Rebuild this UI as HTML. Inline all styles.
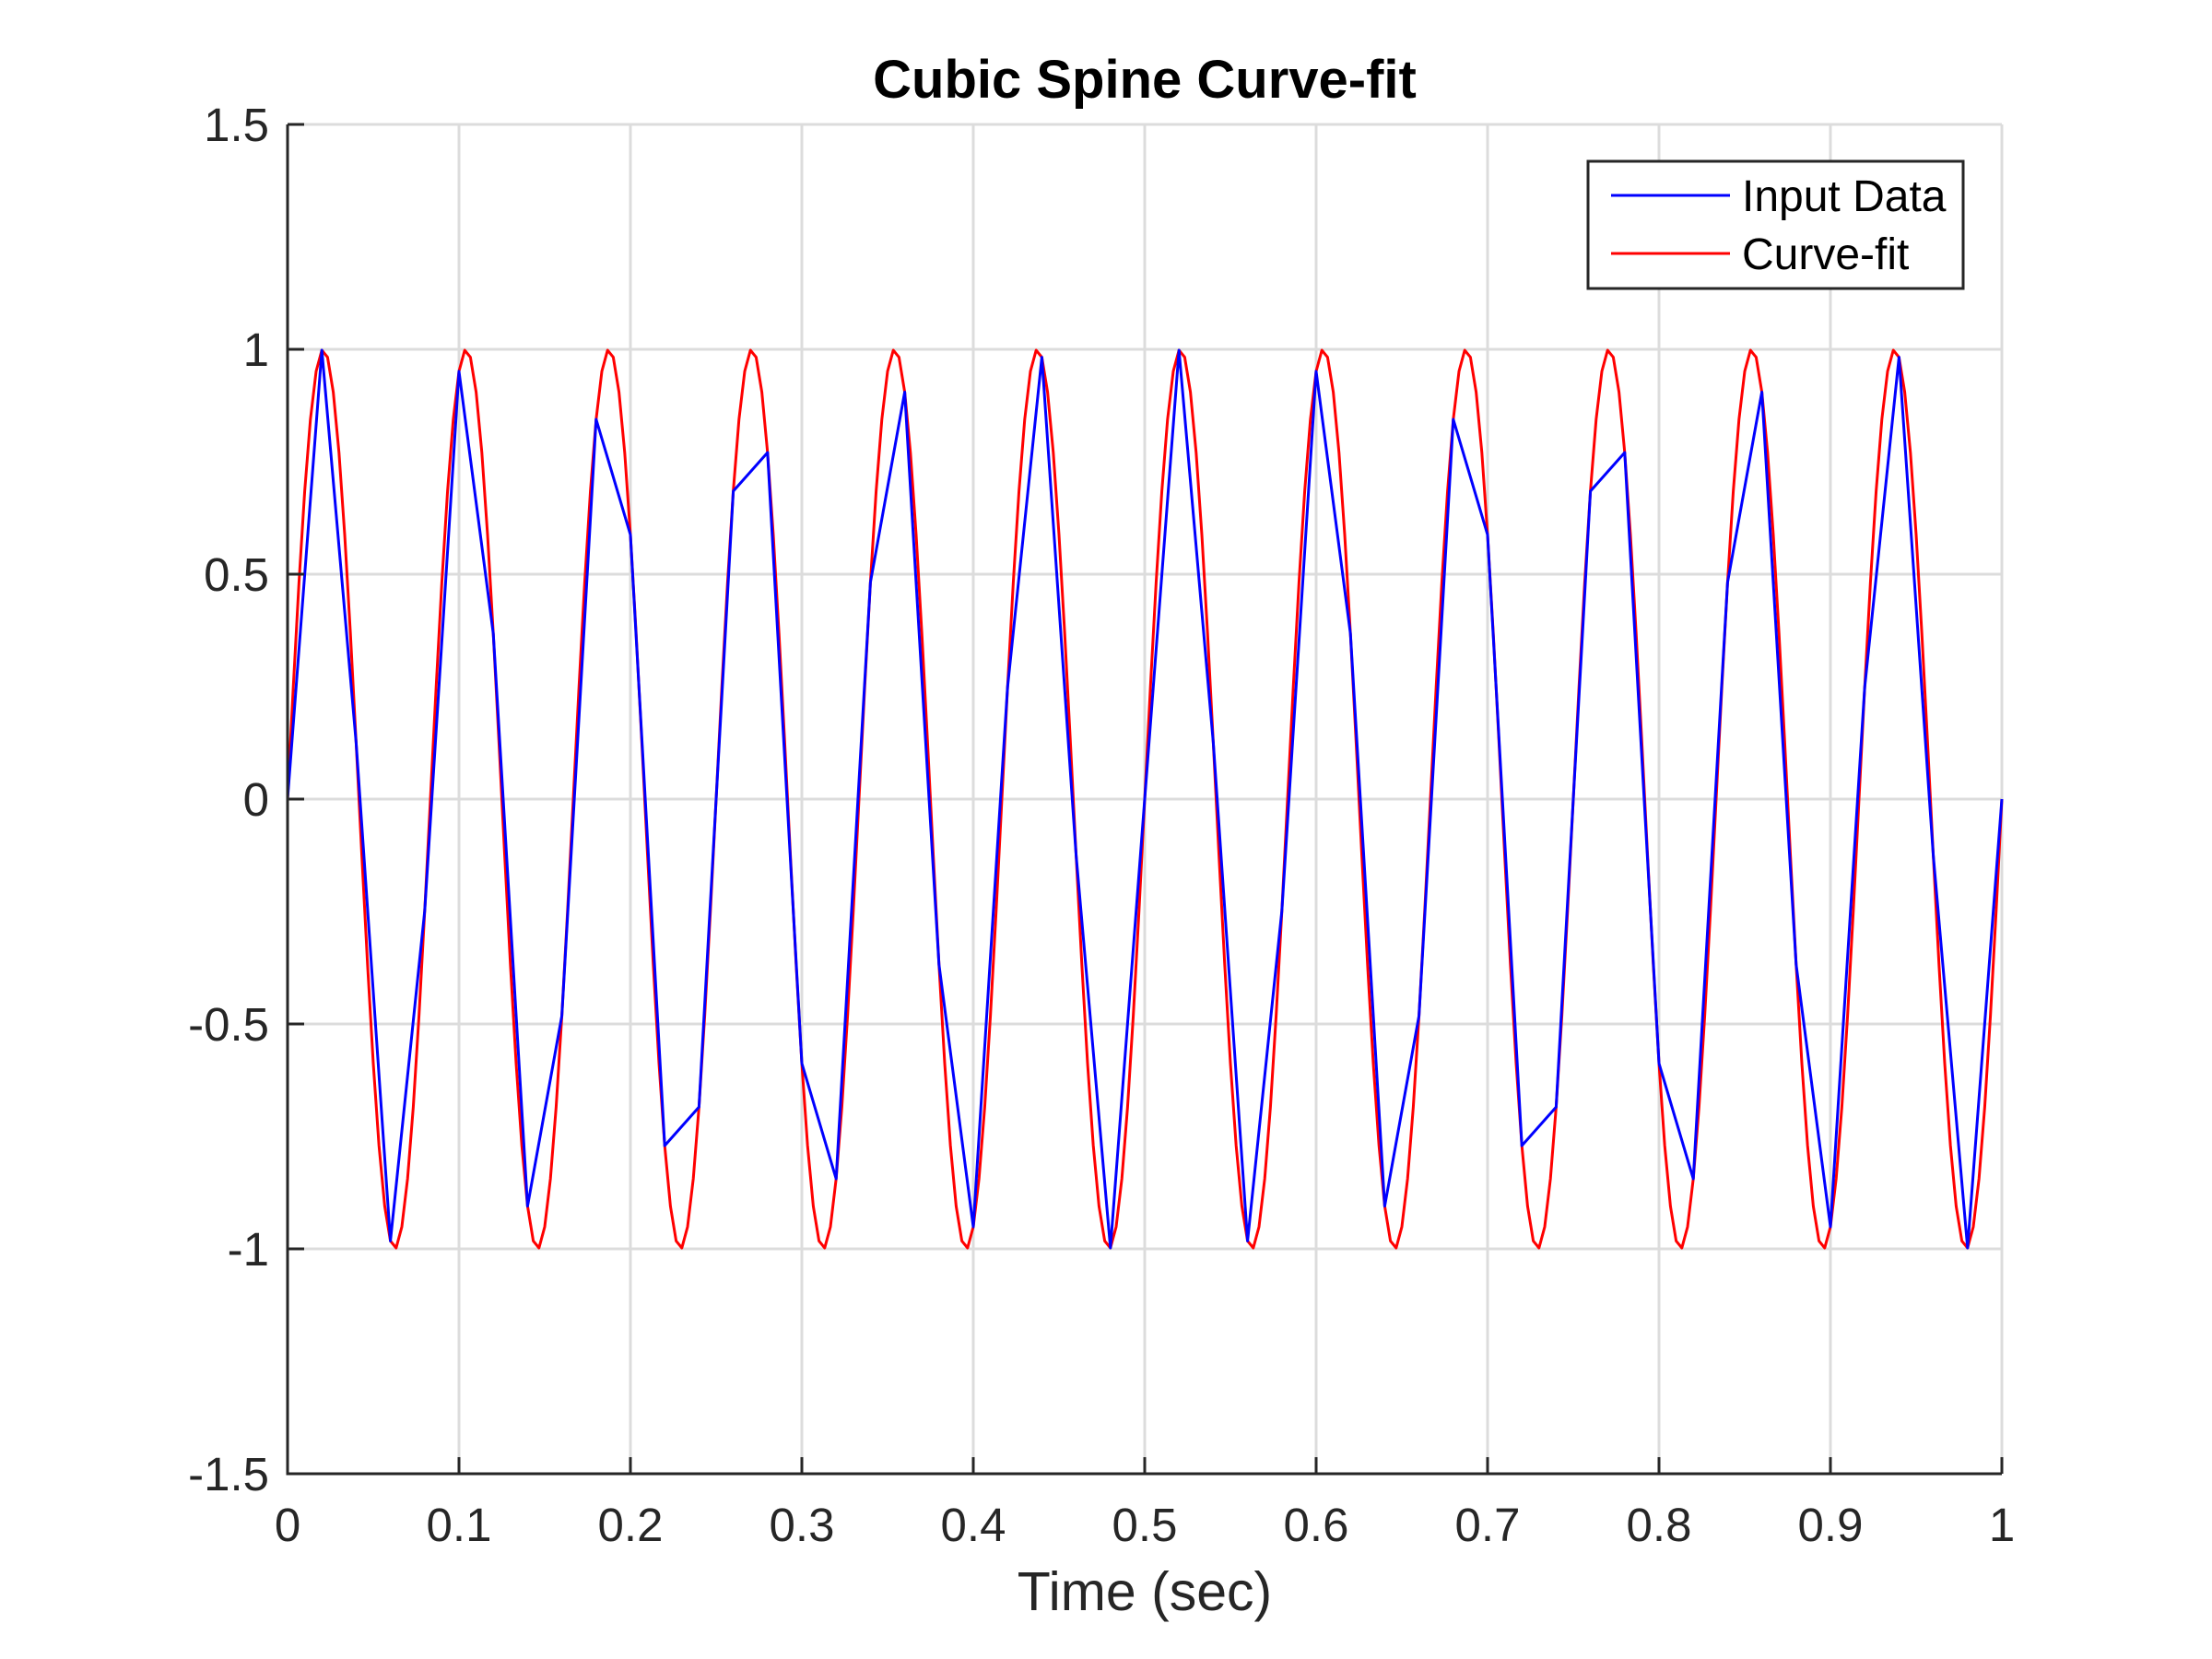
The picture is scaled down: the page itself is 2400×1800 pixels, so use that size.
<!DOCTYPE html>
<html><head><style>body{margin:0;background:#fff}svg{display:block}</style></head>
<body>
<svg id="s" width="2400" height="1800" xmlns="http://www.w3.org/2000/svg" font-family="Liberation Sans, Arial, sans-serif">
<rect width="2400" height="1800" fill="#fff"/>
<g id="grid" stroke="#dcdcdc" stroke-width="3"></g>
<g id="lines" fill="none" stroke-width="3" stroke-linejoin="round"></g>
<g id="axes" stroke="#262626" stroke-width="3" fill="none"></g>
<g id="labels" fill="#262626" font-size="51"></g>
<text x="1242" y="106" text-anchor="middle" font-size="58" font-weight="bold" fill="#000">Cubic Spine Curve-fit</text>
<text x="1242" y="1747" text-anchor="middle" font-size="59" fill="#262626">Time (sec)</text>
<rect x="1723" y="175" width="407" height="138" fill="#fff" stroke="#262626" stroke-width="3"/>
<line x1="1748" y1="212" x2="1877" y2="212" stroke="#0000ff" stroke-width="3"/>
<line x1="1748" y1="275" x2="1877" y2="275" stroke="#ff0000" stroke-width="3"/>
<text x="1890" y="229" font-size="48" fill="#000">Input Data</text>
<text x="1890" y="292" font-size="48" fill="#000">Curve-fit</text>
</svg>
<script>
var L=312,R=2172,T=135,B=1599,NS="http://www.w3.org/2000/svg";
function X(t){return L+(R-L)*t}function Y(v){return T+(B-T)*(1.5-v)/3}
function el(p,n,a,txt){var e=document.createElementNS(NS,n);for(var k in a)e.setAttribute(k,a[k]);if(txt!=null)e.textContent=txt;document.getElementById(p).appendChild(e);}
for(var i=0;i<=10;i++){var x=X(i/10);el('grid','line',{x1:x,y1:T,x2:x,y2:B});
el('axes','line',{x1:x,y1:B,x2:x,y2:B-18});
el('labels','text',{x:x,y:1672,'text-anchor':'middle'},i==0?'0':i==10?'1':(i/10).toFixed(1));}
for(var j=0;j<=6;j++){var v=-1.5+j*0.5,y=Y(v);el('grid','line',{x1:L,y1:y,x2:R,y2:y});
el('axes','line',{x1:L,y1:y,x2:L+18,y2:y});
el('labels','text',{x:292,y:y+18,'text-anchor':'end'},v==0?'0':String(v));}
el('axes','path',{d:'M'+L+' '+T+'V'+B+'H'+R});
var f=function(t){return Math.sin(2*Math.PI*12*t)};
var d='';for(var k=0;k<=300;k++){var t=k/300;d+=(k?'L':'M')+X(t).toFixed(1)+' '+Y(f(t)).toFixed(1);}
el('lines','path',{d:d,stroke:'#ff0000'});
d='';for(var k=0;k<=50;k++){var t=k/50;d+=(k?'L':'M')+X(t).toFixed(1)+' '+Y(f(t)).toFixed(1);}
el('lines','path',{d:d,stroke:'#0000ff'});
</script>
</body></html>
